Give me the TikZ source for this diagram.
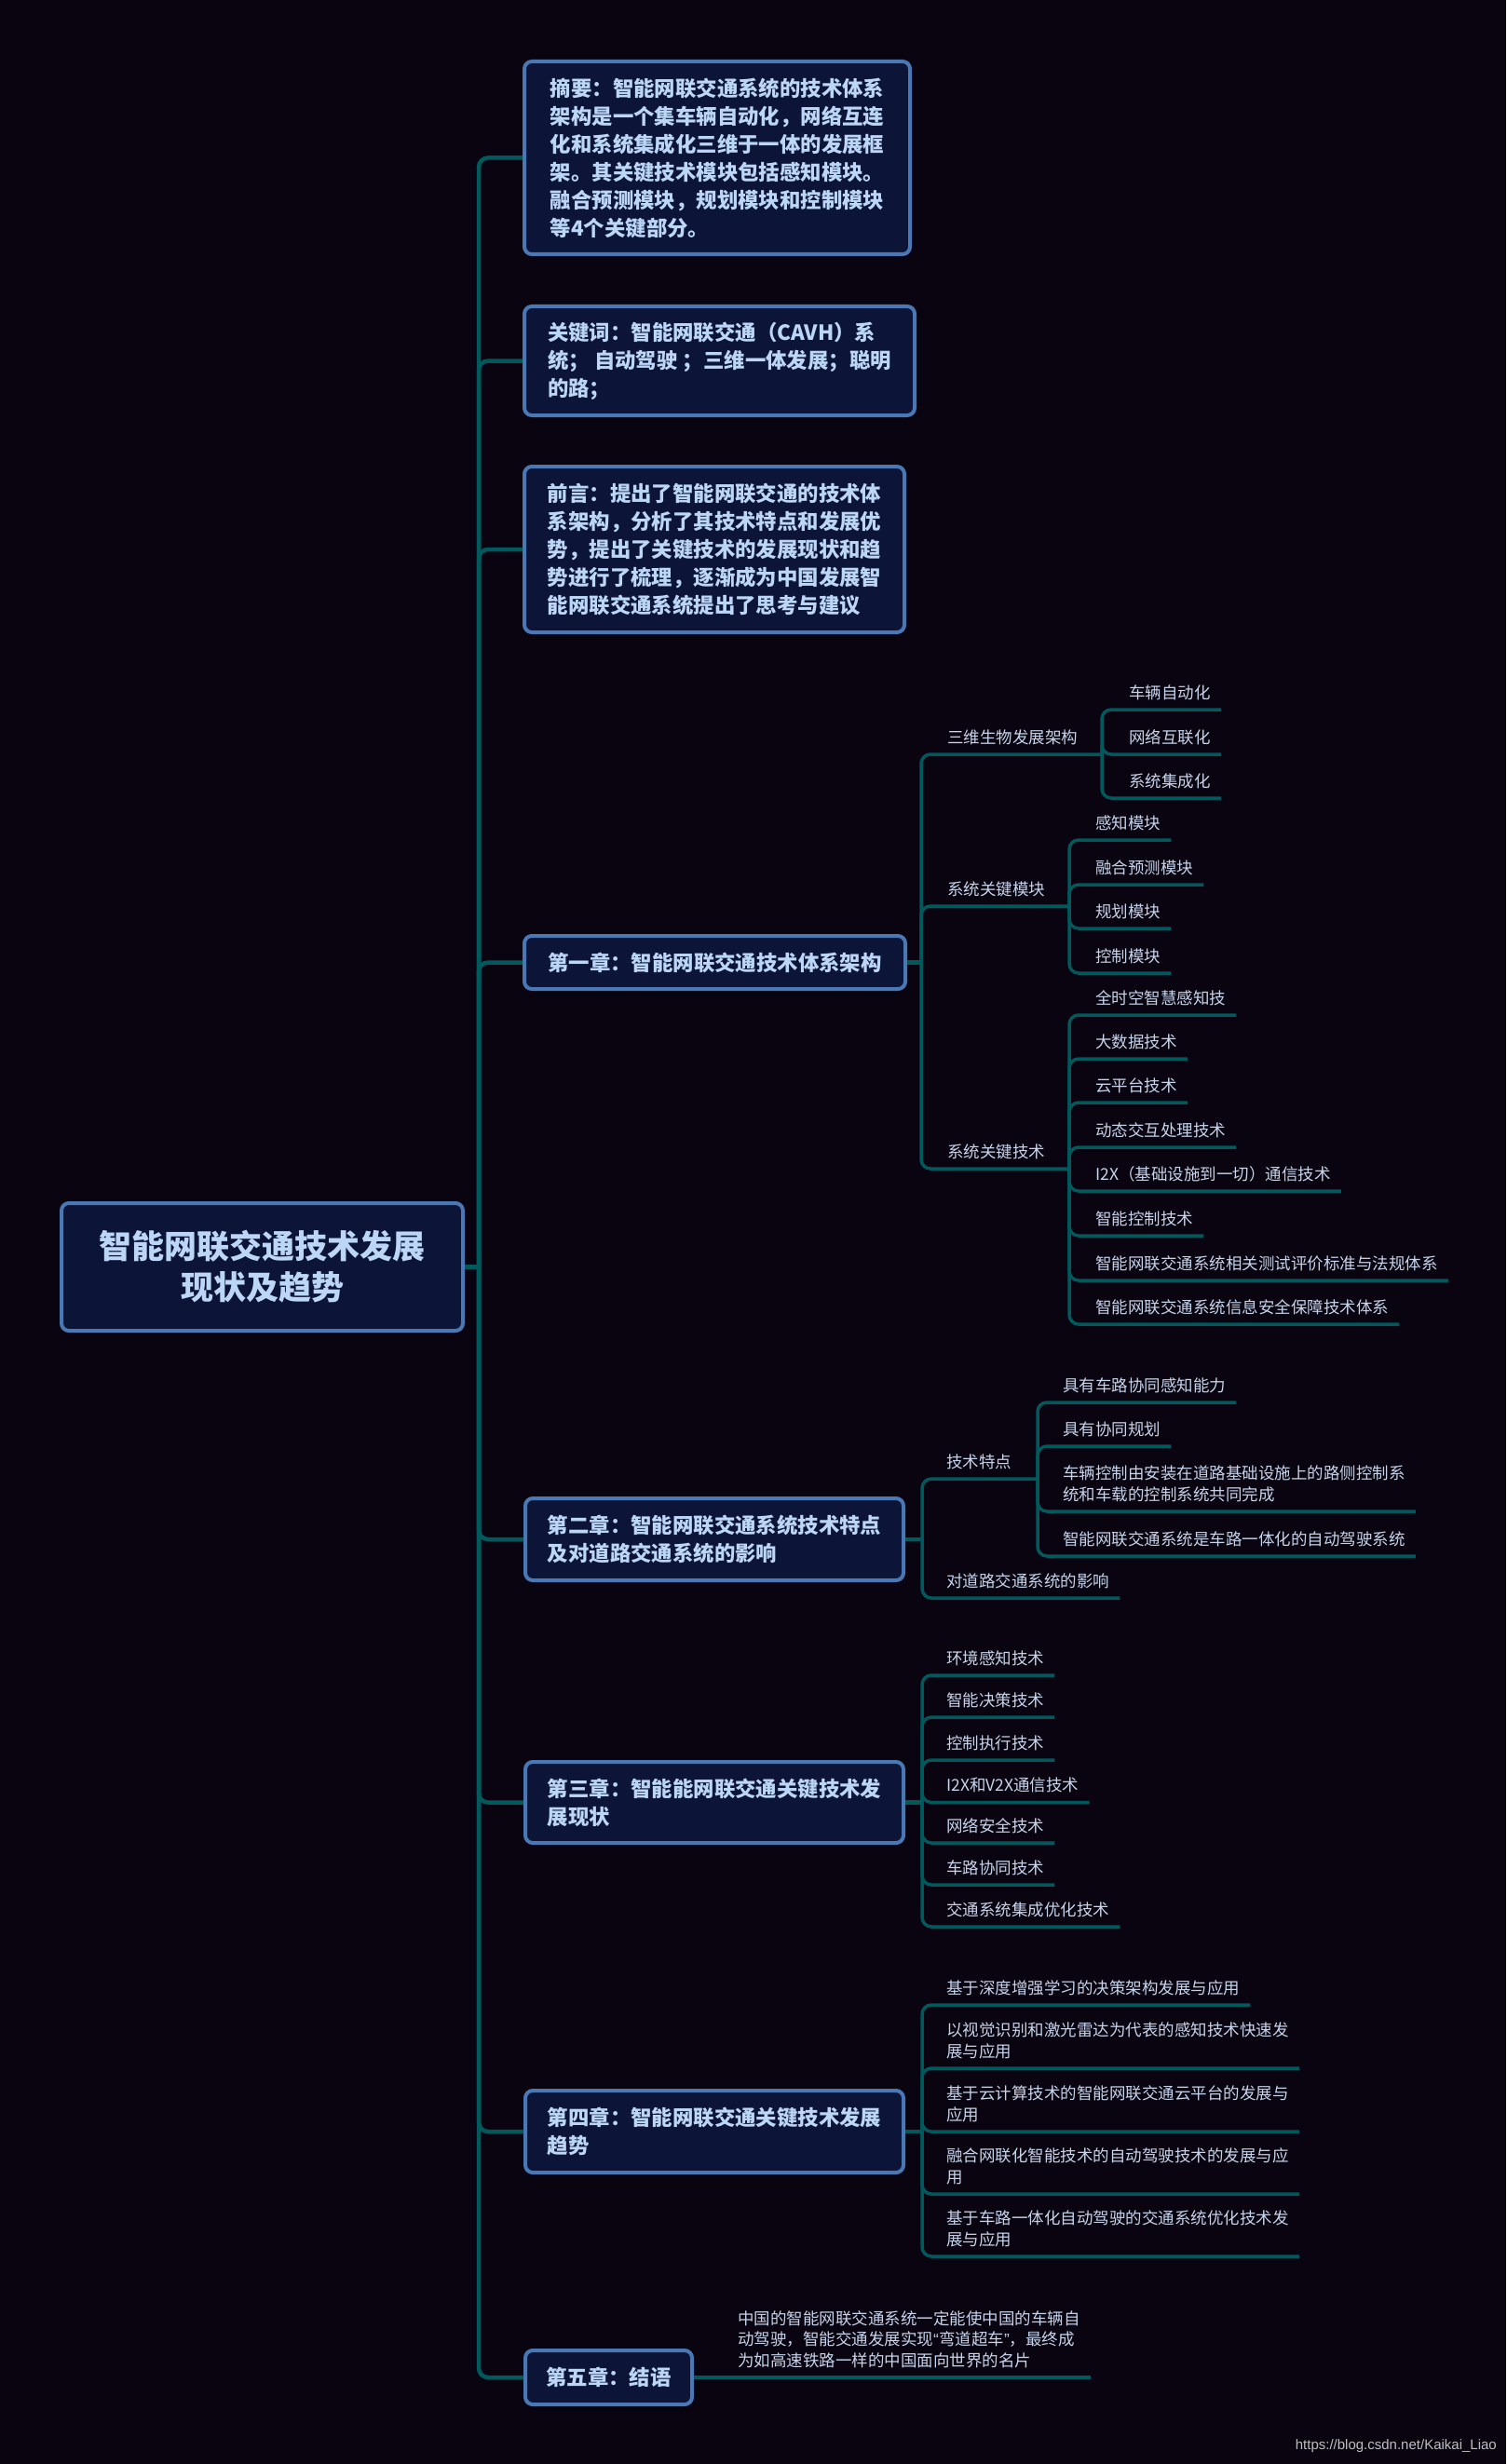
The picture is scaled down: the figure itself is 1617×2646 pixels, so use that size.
\documentclass[tikz,border=0pt]{standalone}
\usepackage{fontspec}
\setmainfont{Noto Sans CJK SC}
\newfontfamily\wmfont{Liberation Sans}
\definecolor{bgc}{HTML}{09040F}
\definecolor{lnc}{HTML}{00595C}
\definecolor{bxfill}{HTML}{0C1537}
\definecolor{bxline}{HTML}{4A78B4}
\definecolor{bxtext}{HTML}{BBD6F7}
\definecolor{lftext}{HTML}{C6D4EC}
\begin{document}
\begin{tikzpicture}[x=1pt, y=-1pt,
    bx/.style={draw=bxline, fill=bxfill, line width=4pt, rounded corners=8pt, text=bxtext,
        align=left, inner sep=0pt, font=\bfseries\fontsize{22.4}{30}\selectfont},
    lf/.style={anchor=south west, inner xsep=0pt, inner ysep=10pt, align=left, text=lftext,
        font=\fontsize{17.5}{22.5}\selectfont},
    ln/.style={draw=lnc, line width=3.5pt, rounded corners=10pt},
    lnb/.style={ln, line width=4.5pt}]
% --- sfondo ---
\fill[bgc] (0,0) rectangle (1617,2646);
\useasboundingbox (0,0) rectangle (1617,2646);
% --- radice ---
\node[bx, align=center, minimum width=431pt, minimum height=137pt,
    font=\bfseries\fontsize{35}{44}\selectfont] (root) at (281.5,1360.5) {智能网联交通技术发展\\现状及趋势};
% --- rami principali ---
\node[bx, minimum width=414pt, minimum height=207pt] (zy) at (770,169.5)
    {摘要：智能网联交通系统的技术体系\\架构是一个集车辆自动化，网络互连\\化和系统集成化三维于一体的发展框\\架。其关键技术模块包括感知模块。\\融合预测模块，规划模块和控制模块\\等4个关键部分。};
\node[bx, minimum width=419pt, minimum height=117pt] (gjc) at (772.5,387.5)
    {关键词：智能网联交通（CAVH）系\\统； 自动驾驶 ；三维一体发展；聪明\\的路；};
\node[bx, minimum width=408pt, minimum height=178pt] (qy) at (767,590)
    {前言：提出了智能网联交通的技术体\\系架构，分析了其技术特点和发展优\\势，提出了关键技术的发展现状和趋\\势进行了梳理，逐渐成为中国发展智\\能网联交通系统提出了思考与建议};
\node[bx, minimum width=409pt, minimum height=57pt] (c1) at (767.5,1033.5) {第一章：智能网联交通技术体系架构};
\node[bx, minimum width=406pt, minimum height=88pt] (c2) at (767,1653) {第二章：智能网联交通系统技术特点\\及对道路交通系统的影响};
\node[bx, minimum width=406pt, minimum height=87pt] (c3) at (767,1935.5) {第三章：智能能网联交通关键技术发\\展现状};
\node[bx, minimum width=406pt, minimum height=88pt] (c4) at (767,2289) {第四章：智能网联交通关键技术发展\\趋势};
\node[bx, minimum width=179pt, minimum height=58pt] (c5) at (653.5,2553) {第五章：结语};
\coordinate (tr) at (514,1360.5);
\draw[lnb] (root.east) -- (tr);
\foreach \b in {zy,gjc,qy,c1,c2,c3,c4,c5} {
    \draw[lnb] (tr) |- (\b.west);
}
% --- capitolo 1 ---
\coordinate (j1) at (989,1033.5);
\draw[lnb] (c1.east) -- (j1);
\node[lf] (s11) at (1017,810) {三维生物发展架构};
\coordinate (j11) at (1183,810);
\draw[ln] (j1) |- (j11);
\node[lf] (s11a) at (1212,762) {车辆自动化};
\node[lf] (s11b) at (1212,810) {网络互联化};
\node[lf] (s11c) at (1212,857) {系统集成化};
\foreach \n in {s11a,s11b,s11c} {
    \draw[ln] (j11) |- ([xshift=11pt]\n.south east);
}
\node[lf] (s12) at (1017,973) {系统关键模块};
\coordinate (j12) at (1148,973);
\draw[ln] (j1) |- (j12);
\node[lf] (s12a) at (1176,902) {感知模块};
\node[lf] (s12b) at (1176,950) {融合预测模块};
\node[lf] (s12c) at (1176,997) {规划模块};
\node[lf] (s12d) at (1176,1045) {控制模块};
\foreach \n in {s12a,s12b,s12c,s12d} {
    \draw[ln] (j12) |- ([xshift=11pt]\n.south east);
}
\node[lf] (s13) at (1017,1255) {系统关键技术};
\coordinate (j13) at (1148,1255);
\draw[ln] (j1) |- (j13);
\node[lf] (s13a) at (1176,1090) {全时空智慧感知技};
\node[lf] (s13b) at (1176,1137) {大数据技术};
\node[lf] (s13c) at (1176,1184) {云平台技术};
\node[lf] (s13d) at (1176,1232) {动态交互处理技术};
\node[lf] (s13e) at (1176,1279) {I2X（基础设施到一切）通信技术};
\node[lf] (s13f) at (1176,1327) {智能控制技术};
\node[lf] (s13g) at (1176,1375) {智能网联交通系统相关测试评价标准与法规体系};
\node[lf] (s13h) at (1176,1422) {智能网联交通系统信息安全保障技术体系};
\foreach \n in {s13a,s13b,s13c,s13d,s13e,s13f,s13g,s13h} {
    \draw[ln] (j13) |- ([xshift=11pt]\n.south east);
}
% --- capitolo 2 ---
\coordinate (j2) at (990,1653);
\draw[lnb] (c2.east) -- (j2);
\node[lf] (s21) at (1016,1588) {技术特点};
\coordinate (j21) at (1114,1588);
\draw[ln] (j2) |- (j21);
\node[lf] (s21a) at (1141,1506) {具有车路协同感知能力};
\node[lf] (s21b) at (1141,1553) {具有协同规划};
\node[lf] (s21c) at (1141,1623) {车辆控制由安装在道路基础设施上的路侧控制系\\统和车载的控制系统共同完成};
\node[lf] (s21d) at (1141,1671) {智能网联交通系统是车路一体化的自动驾驶系统};
\foreach \n in {s21a,s21b,s21c,s21d} {
    \draw[ln] (j21) |- ([xshift=11pt]\n.south east);
}
\node[lf] (s22) at (1016,1716) {对道路交通系统的影响};
\draw[ln] (j2) |- ([xshift=11pt]s22.south east);
% --- capitolo 3 ---
\coordinate (j3) at (990,1935.5);
\draw[lnb] (c3.east) -- (j3);
\node[lf] (s31) at (1016,1799) {环境感知技术};
\node[lf] (s32) at (1016,1844) {智能决策技术};
\node[lf] (s33) at (1016,1890) {控制执行技术};
\node[lf] (s34) at (1016,1935.5) {I2X和V2X通信技术};
\node[lf] (s35) at (1016,1979) {网络安全技术};
\node[lf] (s36) at (1016,2024) {车路协同技术};
\node[lf] (s37) at (1016,2069) {交通系统集成优化技术};
\foreach \n in {s31,s32,s33,s34,s35,s36,s37} {
    \draw[ln] (j3) |- ([xshift=11pt]\n.south east);
}
% --- capitolo 4 ---
\coordinate (j4) at (990,2289);
\draw[lnb] (c4.east) -- (j4);
\node[lf] (s41) at (1016,2153) {基于深度增强学习的决策架构发展与应用};
\node[lf] (s42) at (1016,2221) {以视觉识别和激光雷达为代表的感知技术快速发\\展与应用};
\node[lf] (s43) at (1016,2289) {基于云计算技术的智能网联交通云平台的发展与\\应用};
\node[lf] (s44) at (1016,2356) {融合网联化智能技术的自动驾驶技术的发展与应\\用};
\node[lf] (s45) at (1016,2423) {基于车路一体化自动驾驶的交通系统优化技术发\\展与应用};
\foreach \n in {s41,s42,s43,s44,s45} {
    \draw[ln] (j4) |- ([xshift=11pt]\n.south east);
}
% --- capitolo 5 ---
\node[lf] (s51) at (792,2553) {中国的智能网联交通系统一定能使中国的车辆自\\动驾驶，智能交通发展实现{\wmfont “}弯道超车{\wmfont ”}，最终成\\为如高速铁路一样的中国面向世界的名片};
\draw[ln] (c5.east) -- ([xshift=11pt]s51.south east);
% --- firma ---
\node[anchor=east, inner sep=0pt, text=black!25!white, font=\wmfont\fontsize{15}{18}\selectfont] (wm)
    at (1607,2627) {https://blog.csdn.net/Kaikai\_Liao};
\end{tikzpicture}
\end{document}
